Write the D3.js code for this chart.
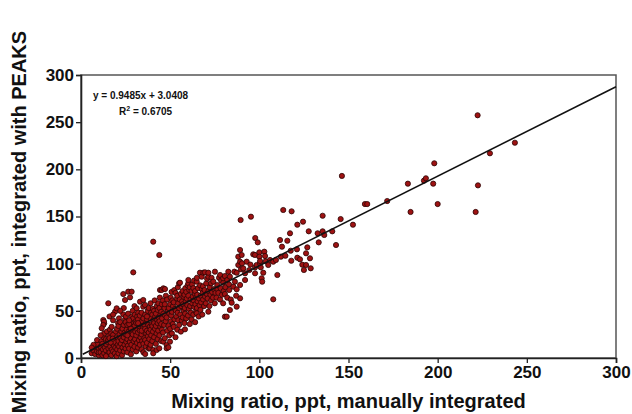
<!DOCTYPE html>
<html>
<head>
<meta charset="utf-8">
<script src="https://cdn.jsdelivr.net/npm/d3@7"></script>
<style>
  body { margin: 0; background: #fff; }
  svg text { font-family: "Liberation Sans", Arial, sans-serif; font-weight: bold; }
</style>
</head>
<body>
<div id="chart"></div>
<script>
const xTicks = [0, 50, 100, 150, 200, 250, 300];
const yTicks = [0, 50, 100, 150, 200, 250, 300];
const fitSlope = 0.9485;
const fitIntercept = 3.0408;
const fitRange = [1, 300];
const fitLabel = 'y = 0.9485x + 3.0408';
const r2Value = '0.6705';
const xTitle = 'Mixing ratio, ppt, manually integrated';
const yTitle = 'Mixing ratio, ppt, integrated with PEAKS';

// dense cluster, x < 45
const pointsLow = [
  [6,5],[7,8],[8,4],[8,12],[9,7],[9,15],[10,3],[10,10],[7,14],[9,19],[6,11],[10,6],
  [11,6],[11,12],[11.5,18],[12,3],[12.3,9],[12,15],[12.6,22],[13,5],[13.4,11],[13,26],[13,36.8],[12.5,40.3],
  [12.9,38.5],[12.5,35],[11.6,31.5],[14,8],[14.2,14.5],[14,20],[14.6,28],[15,4],[15.4,10],[15,17],
  [15.8,24],[15.3,58],[11,24],[14,2],[15.3,19.1],
  [16,6],[16.4,12],[16,21],[16.2,30],[17,3],[17.3,9],[17.6,15.5],[17,26],[17.2,33],[18,7],[18.5,13],
  [18.2,19],[18,24.5],[18,40],[19,5],[19.3,11],[19,17],[19.6,28],[19.1,49.1],[20,52.7],[20,2],[20.3,9],
  [20.6,14],[20,22],[20.2,31],[20.8,37],[16,44],[18,46],[16.6,16.5],[17.8,20.5],
  [21,5],[21.4,12],[21,18],[21.6,25],[21,34],[21.3,42],[22,8],[22.4,15],[22.2,21],[22.7,28],[22,38],[23,3],
  [23.3,11],[23,19],[23.8,24],[23.3,31],[23.7,46.3],[24,7],[24.4,14],[24,22],[24.5,27],[24,35],
  [24.7,41],[25,10],[25.4,17],[25,25],[25.6,30],[25,38],[25.2,44],[23.7,67.8],[24.7,61.5],[24,53],[22,50],
  [26,6],[26.3,13],[26,20],[26.7,28],[26,35],[26.4,47],[26.5,70.3],[27,10],[27.4,17],[27,24],[27.7,32],
  [27.5,64.3],[28,4],[28.3,14],[28,21],[28.8,27],[28,37],[28.6,44],[28.4,70.3],[29,9],[29.5,18],
  [29,25],[29.8,31],[29.2,42],[29,50],[29.3,90.8],[30,12],[30.3,20],[30.5,28],[30,34],[30.7,39],
  [30.2,46],[30,55],[26,24],[27,36],[28,31],[27,40],
  [31,7],[31.4,16],[31,24],[31.6,30],[31,37],[31.5,44],[31.2,52.7],[32,11],[32.5,19],[32,27],
  [32.7,33],[32,41],[32.1,48],[33,14],[33.4,22],[33,29],[33.6,36],[33,45],[33.1,59.7],[34,9],
  [34.3,18],[34,25],[34.8,32],[34.2,39],[34,48],[34.9,54.4],[34.9,61.5],[35,15],[35.5,21],[35,28],
  [35.6,35],[35,42],[35.9,56.2],[35,6],[32,37],[34,29],
  [36,4.2],[36.4,12],[36,19],[36.6,26],[36,31],[36.8,38],[36,46],[37,16],[37.5,23],[37,29],[37.7,35],
  [37,41],[37.4,50],[38,10],[38.3,20],[38,27],[38.6,33],[38.2,44],[38,53],[38.7,10.3],[39,14],
  [39.4,24],[39,30],[39.6,36],[39,42],[39.3,48],[39,58],[40,18],[40.4,28],[40,34],[40.6,40],[40,46],
  [40.3,52],[40.5,8.5],[40.5,5],[40.5,123.3],[37,44],
  [41,22],[41.5,31],[41,37],[41.6,44],[41,50],[41.3,61],[42,15],[42.4,26],[42,34],[42.7,40],[42,47],
  [42.5,55],[42.4,8.5],[43,20],[43.3,29],[43,37],[43.6,43],[43,51],[43.4,58],[43.9,10.3],[43.9,109.2],
  [44,24],[44.5,33],[44,39],[44.6,46],[44,53],[44.2,64],[44.3,72.1],[45,18],[45.4,30],[45,36],
  [45.5,42],[45,49],[45.3,57],[45.2,72.1]
];

// main band, 45 <= x < 100
const pointsMid = [
  [46,27],[46.6,35],[46.2,47],[46.8,53],[46,61],[46.2,17.3],[46.2,73.9],[47,21],[47.5,39],
  [47.2,45],[47,57],[47.6,66],[47.1,73.1],[48,13.8],[48,10.3],[48.4,29],[48,43],[48.7,50],
  [48.3,62],[49,11.3],[49.5,24],[49,34],[49.6,47],[49.2,53],[49.9,17.3],[50,31],[50.4,39],
  [50.6,45],[50,57],[50.3,64],[50.8,70],
  [51,26],[51.5,36],[51,49],[51.6,55],[51.2,61],[52,33],[52.4,41],[52.7,52],[52,59],[52.3,72],
  [53,22],[53.5,44],[53.2,50],[53.8,63],[53,69],[54,30],[54.6,40],[54.2,48],[54.5,58],[54,66],
  [54.3,75],[55,35],[55.7,46],[55,53],[55.4,62],[55,79.2],[55.5,79.8],
  [56,28],[56.5,40],[56.2,55],[56.7,60],[56,68],[57,43],[57.6,50],[57.2,57],[57.5,65],[57,71],
  [58,37],[58.4,47],[58.2,53],[58.7,60],[58,67],[58.5,74],[58.3,30.4],[59,42],[59.6,56],[59.3,63],
  [59,70],[59.8,77],[60,45],[60.5,52],[60.2,66],[60.7,72],[60.2,79.2],[60.2,82.7],
  [61,36],[61.6,48],[61.2,55],[61.5,62],[61,75],[62,41],[62.4,58],[62.7,65],[62,71],[62.3,78],
  [63,46],[63.5,54],[63.2,61],[63.8,68],[63,74],[63.4,82],[64,38],[64.5,49],[64.2,57],[64.6,64],
  [64,71],[64.9,47.4],[64.9,80.9],[65,53],[65.4,60],[65.2,67],[65.6,74],[65,85],
  [66,44],[66.5,56],[66.2,63],[66.8,77],[66.7,90.4],[67,51],[67.4,59],[67.2,66],[67.7,73],
  [67.7,86.2],[68,46],[68.5,62],[68.2,69],[68.4,76],[68.6,90.4],[69,55],[69.6,65],[69.3,72],
  [69.5,90.8],[70,58],[70.5,68],[70.2,79],[70.7,84],
  [71,63],[71.5,71],[71.4,49.1],[71.4,86.2],[71.4,90.4],[72,55],[72.6,67],[72.2,75],[72.9,79.2],
  [73,61],[73.5,70],[73.2,85],[74,64],[74.6,73],[74.2,81],[75,58],[75.4,69],[75.1,91.5],
  [76,64],[76.5,73],[76.4,77.4],[77,69],[77.4,85],[78,62],[78.3,74],[78.6,82],[78,88],[79,67],
  [79.8,79.8],[80,71],[79.7,84.5],[79.7,58],[80.7,43.8],[80.7,67.8],[80.7,86.9],
  [81,75],[81.7,43.8],[82,82.7],[82.6,91.5],[82,64],[83,78],[83.1,72.1],[83.5,50.9],
  [83.5,86.2],[84,62],[84.5,58.6],[85.4,75.6],
  [86,91.5],[86.3,80.9],[87.3,90.4],[87.3,54.4],[87.3,72.8],[88.2,107.4],[88.2,98.6],[89.2,114.5],
  [89.2,63.3],[89.2,77.4],[89.2,102.1],[89.5,146.3],[89.7,94],[87,66],
  [90.1,109.2],[90.3,100.4],[92,82.7],[92,89.8],[92.9,102.1],[94.4,93.3],[95.3,149.8],[96.6,109.9],
  [97.6,96.1],[97.6,89.8],[97.6,109.2],[97.7,127.2],[98.5,98.6],[99.1,122.6],[91,95],[95,99]
];

// sparse upper points, x >= 100
const pointsHigh = [
  [100,112],[100,107.4],[100.4,100.4],[100.4,102.8],
  [100.8,96.1],[101.3,84.5],[101.6,80.9],[102.2,90.4],[102.8,112.7],[103.2,108.1],[103.6,102.5],
  [105,98.6],[106,103.9],[107.8,102.1],[107.8,62.2],[109.3,103.9],[110.1,88],[111.6,125.1],
  [112.1,107.4],[112.7,118],[113.4,156.9],[114.6,108.4],
  [115.7,124.3],[117.2,132.2],[117.6,113.7],[117.9,103.1],[118.1,155.5],[121.1,115.2],[121.3,141.3],
  [121.3,106.3],[122.8,104.6],[124.1,98.9],[124.5,144.5],[125,93.3],[126.2,98.6],[126.2,111],
  [126.9,117.3],[127.7,134.3],[128.4,105.7],[128.8,95.1],
  [132.7,132.2],[133.3,122.6],[135.5,134.3],[135.5,150.8],[136.4,130.4],[140.9,134.3],[143,119.8],
  [145.6,147.3],[146.3,193],[152.5,141.3],[159.2,163.2],[160.5,163.2],
  [171.7,166.4],[183.3,184.8],[184.8,154.8],[192.3,188],[193.4,190.5],[197.5,184.8],[198.1,206.4],
  [200,163.2],[221.3,154.8],[222.4,257.3],[222.6,183],[229.3,217],[243.3,228.2]
];

const width = 632;
const height = 414;
const margin = { top: 75, right: 16, bottom: 56, left: 81 };

const svg = d3.select('#chart')
  .append('svg')
  .attr('width', width)
  .attr('height', height);

const x = d3.scaleLinear().domain([0, 300]).range([margin.left, width - margin.right]);
const y = d3.scaleLinear().domain([0, 300]).range([height - margin.bottom, margin.top]);

// frame (top and right edges)
svg.append('rect')
  .attr('x', x(0))
  .attr('y', y(300))
  .attr('width', x(300) - x(0))
  .attr('height', y(0) - y(300))
  .attr('fill', 'none')
  .attr('stroke', '#555')
  .attr('stroke-width', 1.5);

const xAxis = svg.append('g')
  .attr('transform', `translate(0,${y(0)})`)
  .call(d3.axisBottom(x).tickValues(xTicks).tickSizeOuter(0).tickSize(5).tickPadding(3));
const yAxis = svg.append('g')
  .attr('transform', `translate(${x(0)},0)`)
  .call(d3.axisLeft(y).tickValues(yTicks).tickSizeOuter(0).tickSize(5).tickPadding(2));

[xAxis, yAxis].forEach((g) => {
  g.select('.domain').attr('stroke', '#222').attr('stroke-width', 1.6);
  g.selectAll('.tick line').attr('stroke', '#222').attr('stroke-width', 1.3);
  g.selectAll('.tick text')
    .attr('fill', '#111')
    .style('font-size', '17px')
    .style('font-family', '"Liberation Sans", Arial, sans-serif')
    .style('font-weight', 'bold');
});

const allPoints = pointsLow.concat(pointsMid, pointsHigh);

svg.append('g')
  .selectAll('circle')
  .data(allPoints)
  .enter()
  .append('circle')
  .attr('cx', (d) => x(d[0]))
  .attr('cy', (d) => y(d[1]))
  .attr('r', 2.6)
  .attr('fill', '#9e1212')
  .attr('stroke', '#2a0505')
  .attr('stroke-width', 0.8);

// regression line
const fitLine = d3.line()
  .x((d) => x(d))
  .y((d) => y(fitSlope * d + fitIntercept));
svg.append('path')
  .datum(fitRange)
  .attr('fill', 'none')
  .attr('stroke', '#111')
  .attr('stroke-width', 1.5)
  .attr('d', fitLine);

// equation labels
svg.append('text')
  .attr('x', 93)
  .attr('y', 99)
  .style('font-size', '10px')
  .attr('fill', '#111')
  .text(fitLabel);
const r2 = svg.append('text')
  .attr('x', 119)
  .attr('y', 115)
  .style('font-size', '10px')
  .attr('fill', '#111');
r2.append('tspan').text('R');
r2.append('tspan').attr('dy', -4).style('font-size', '7px').text('2');
r2.append('tspan').attr('dy', 4).text(` = ${r2Value}`);

// axis titles
svg.append('text')
  .attr('x', (x(0) + x(300)) / 2)
  .attr('y', 408)
  .attr('text-anchor', 'middle')
  .style('font-size', '20px')
  .attr('fill', '#111')
  .text(xTitle);
svg.append('text')
  .attr('transform', `translate(26,${222}) rotate(-90)`)
  .attr('text-anchor', 'middle')
  .style('font-size', '20px')
  .attr('fill', '#111')
  .text(yTitle);
</script>
</body>
</html>
